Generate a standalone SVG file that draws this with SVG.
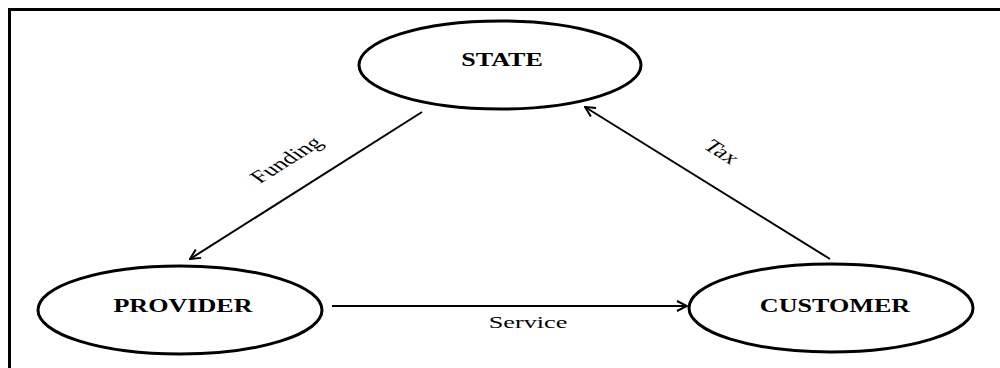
<svg xmlns="http://www.w3.org/2000/svg" width="1000" height="368" viewBox="0 0 1000 368">
<style>
.node{fill:#fff;stroke:#000;stroke-width:3}
.nl{font-family:"Liberation Serif",serif;font-weight:bold;font-size:18px;fill:#000}
.el{font-family:"Liberation Serif",serif;font-size:17.5px;fill:#000}
.conn{stroke:#000;stroke-width:2;fill:none}
</style>
<defs>
<marker id="ah" viewBox="0 0 12 12" refX="11" refY="6" markerWidth="12" markerHeight="12" markerUnits="userSpaceOnUse" orient="auto">
<path d="M1,1 L11,6 L1,11" fill="none" stroke="#000" stroke-width="2"/>
</marker>
</defs>
<rect width="1000" height="368" fill="#fff"/>
<path d="M9.5,368 V9.5 H1000" fill="none" stroke="#000" stroke-width="3"/>
<g id="state">
<ellipse class="node" cx="500" cy="65" rx="141" ry="44"/>
<text class="nl" text-anchor="middle" transform="translate(502,66) scale(1.45,1)">STATE</text>
</g>
<g id="provider">
<ellipse class="node" cx="180" cy="310" rx="142" ry="44"/>
<text class="nl" text-anchor="middle" transform="translate(183,312) scale(1.45,1)">PROVIDER</text>
</g>
<g id="customer">
<ellipse class="node" cx="831" cy="308" rx="142" ry="44"/>
<text class="nl" text-anchor="middle" transform="translate(835,312) scale(1.45,1)">CUSTOMER</text>
</g>
<g id="connectors">
<line class="conn" x1="422" y1="112" x2="190" y2="259" marker-end="url(#ah)"/>
<line class="conn" x1="830" y1="259" x2="585" y2="107" marker-end="url(#ah)"/>
<line class="conn" x1="332" y1="306" x2="687" y2="306" marker-end="url(#ah)"/>
<text class="el" text-anchor="middle" transform="translate(292,164) scale(1.5,1) rotate(-43)">Funding</text>
<text class="el" text-anchor="middle" transform="translate(716,156) scale(1.5,1) rotate(43)">Tax</text>
<text class="el" text-anchor="middle" transform="translate(528,328) scale(1.5,1)">Service</text>
</g>
</svg>
